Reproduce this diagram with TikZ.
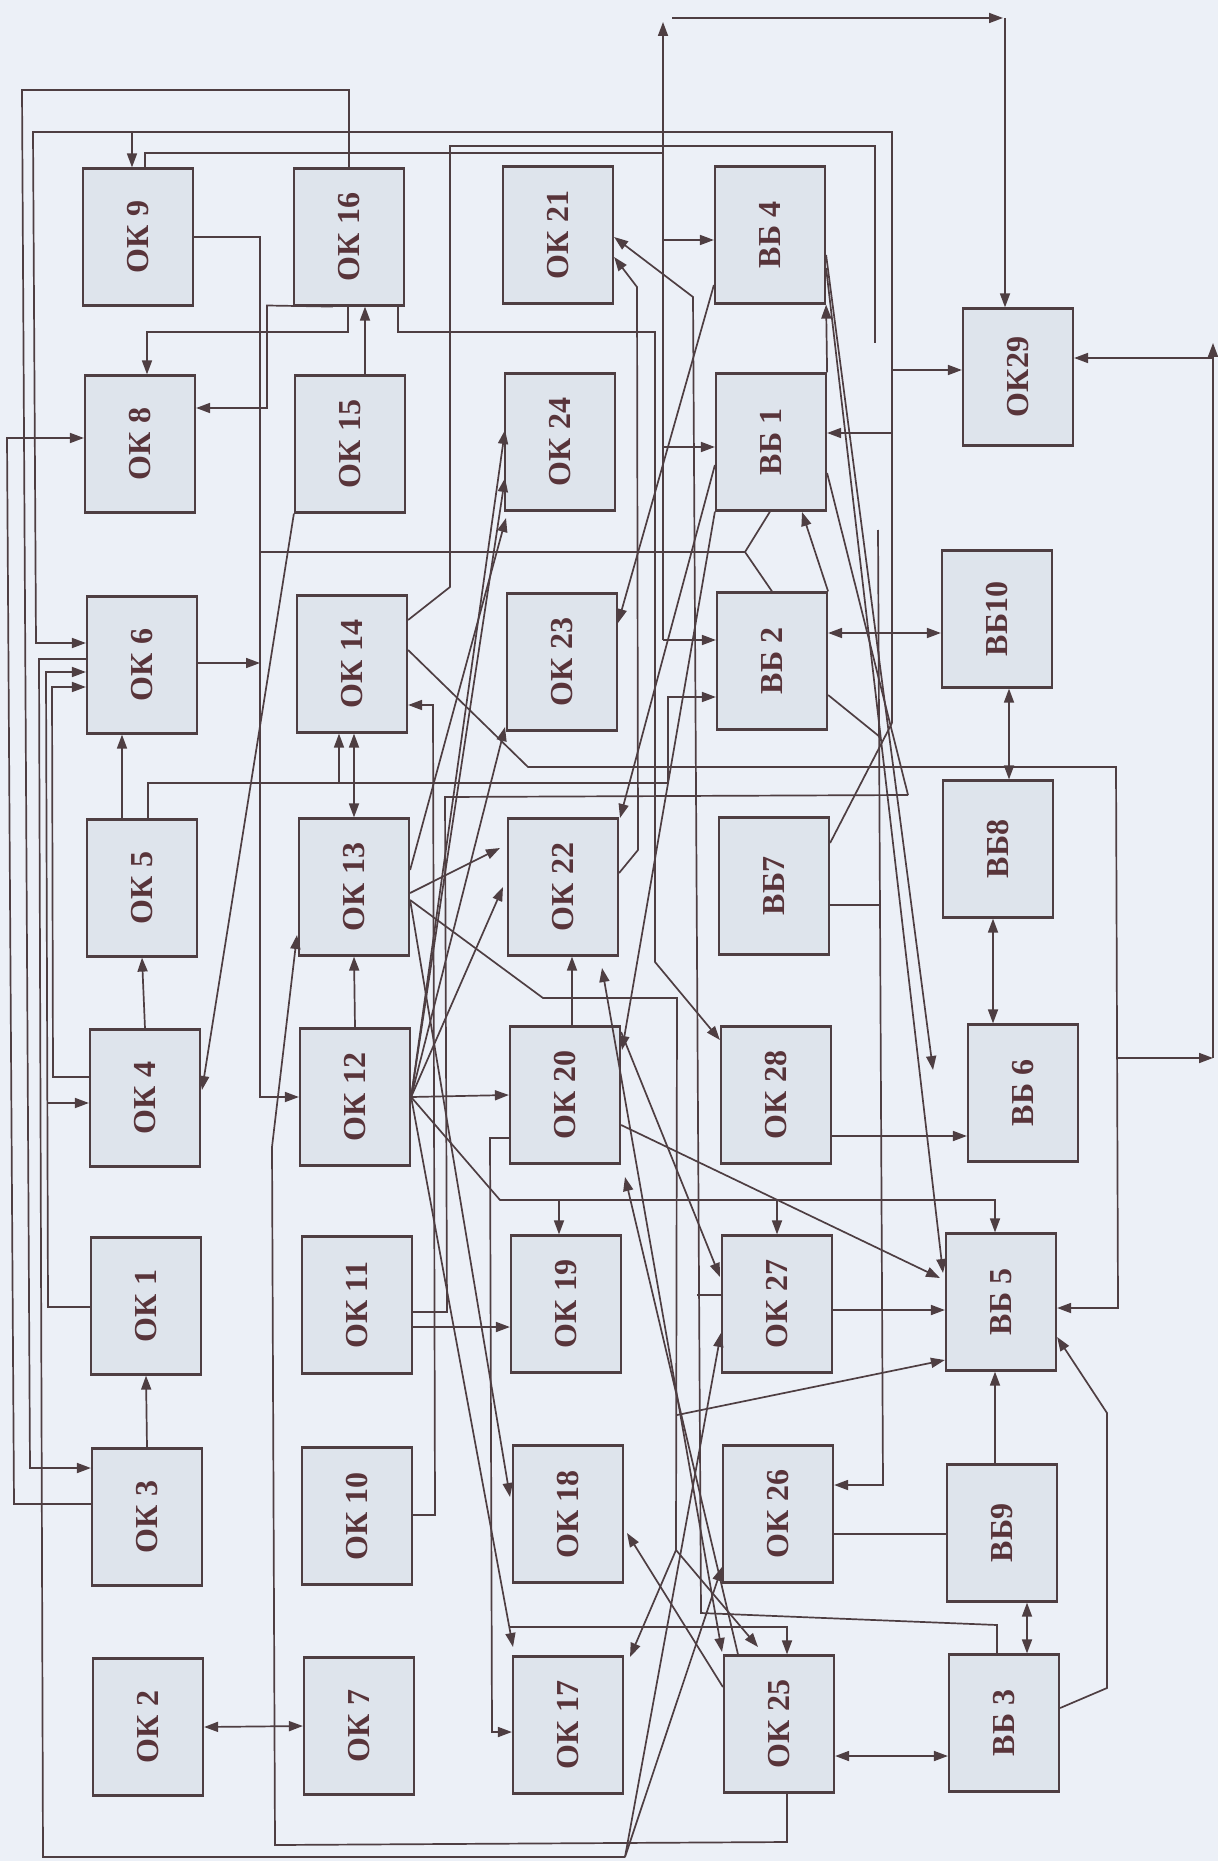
\documentclass[tikz,border=0pt]{standalone}
\usepackage{fontspec}
\setmainfont{Liberation Serif}
\usetikzlibrary{arrows.meta}
\definecolor{bg}{RGB}{236,240,247}
\definecolor{boxc}{RGB}{222,228,236}
\definecolor{lc}{RGB}{78,62,66}
\definecolor{tc}{RGB}{88,52,58}
\begin{document}
\begin{tikzpicture}[x=0.5pt,y=-0.5pt,
  box/.style={draw=lc,fill=boxc,line width=1.1pt,minimum width=55pt,minimum height=68.5pt,inner sep=0pt,text=tc,font=\fontsize{16}{16}\selectfont\bfseries},
  conn/.style={draw=lc,line width=0.85pt},
  arr/.style={conn,-{Triangle[length=7pt,width=5pt]}},
  darr/.style={conn,{Triangle[length=7pt,width=5pt]}-{Triangle[length=7pt,width=5pt]}}]
\fill[bg] (0,0) rectangle (1218,1861);
\useasboundingbox (0,0) rectangle (1218,1861);
\newcommand\bx[4]{\node[box] (#1) at (#2,#3) {\rotatebox{90}{#4}};}
% column 1
\bx{ok9}{138}{237}{ОК 9}
\bx{ok8}{140}{444}{ОК 8}
\bx{ok6}{142}{665}{ОК 6}
\bx{ok5}{142}{888}{ОК 5}
\bx{ok4}{145}{1098}{ОК 4}
\bx{ok1}{146}{1306}{ОК 1}
\bx{ok3}{147}{1517}{ОК 3}
\bx{ok2}{148}{1727}{ОК 2}
% column 2
\bx{ok16}{349}{237}{ОК 16}
\bx{ok15}{350}{444}{ОК 15}
\bx{ok14}{352}{664}{ОК 14}
\bx{ok13}{354}{887}{ОК 13}
\bx{ok12}{355}{1097}{ОК 12}
\bx{ok11}{357}{1305}{ОК 11}
\bx{ok10}{357}{1516}{ОК 10}
\bx{ok7}{359}{1726}{ОК 7}
% column 3
\bx{ok21}{558}{235}{ОК 21}
\bx{ok24}{560}{442}{ОК 24}
\bx{ok23}{562}{662}{ОК 23}
\bx{ok22}{563}{887}{ОК 22}
\bx{ok20}{565}{1095}{ОК 20}
\bx{ok19}{566}{1304}{ОК 19}
\bx{ok18}{568}{1514}{ОК 18}
\bx{ok17}{568}{1725}{ОК 17}
% column 4
\bx{vb4}{770}{235}{ВБ 4}
\bx{vb1}{771}{442}{ВБ 1}
\bx{vb2}{772}{661}{ВБ 2}
\bx{vb7}{774}{886}{ВБ7}
\bx{ok28}{776}{1095}{ОК 28}
\bx{ok27}{777}{1304}{ОК 27}
\bx{ok26}{778}{1514}{ОК 26}
\bx{ok25}{779}{1724}{ОК 25}
% column 5
\bx{ok29}{1018}{377}{ОК29}
\bx{vb10}{997}{619}{ВБ10}
\bx{vb8}{998}{849}{ВБ8}
\bx{vb6}{1023}{1093}{ВБ 6}
\bx{vb5}{1001}{1302}{ВБ 5}
\bx{vb9}{1002}{1533}{ВБ9}
\bx{vb3}{1004}{1723}{ВБ 3}

% ---- simple chains
\draw[arr] (ok3.north) -- (ok1.south);
\draw[arr] (ok4.north) -- (ok5.south);
\draw[arr] (ok5.north -| 122,0) -- (ok6.south -| 122,0);
\draw[arr] (ok12.north) -- (ok13.south);
\draw[arr] (ok15.north -| 365,0) -- (ok16.south -| 365,0);
\draw[darr] (ok13.north -| 354,0) -- (ok14.south -| 354,0);
\draw[darr] (ok2.east) -- (ok7.west);
\draw[darr] (ok25.east |- 0,1756) -- (vb3.west |- 0,1756);
\draw[darr] (vb9.south -| 1027,0) -- (vb3.north -| 1027,0);
\draw[arr] (vb9.north -| 995,0) -- (vb5.south -| 995,0);
\draw[darr] (vb8.south -| 993,0) -- (vb6.north -| 993,0);
\draw[darr] (vb10.south -| 1009,0) -- (vb8.north -| 1009,0);
\draw[darr] (vb2.east |- 0,633) -- (vb10.west |- 0,633);
\draw[arr] (ok28.east |- 0,1136) -- (vb6.west |- 0,1136);
\draw[arr] (ok27.east |- 0,1310) -- (vb5.west |- 0,1310);
\draw[conn] (ok26.east |- 0,1534) -- (vb9.west |- 0,1534);
\draw[arr] (vb3.east |- 0,1708) -- (1107,1688) -- (1107,1413) -- (vb5.east |- 0,1337);

% ---- left side
\draw[arr] (ok16.north) -- (349,90) -- (22,90) -- (30,1468) -- (ok3.west |- 0,1468);
\draw[arr] (ok3.west |- 0,1504) -- (14,1504) -- (7,438) -- (ok8.west |- 0,438);
\draw[arr] (892,723) -- (892,132) -- (33,132) -- (36,643) -- (ok6.west |- 0,643);
\draw[arr] (132,132) -- (ok9.north -| 132,0);
\draw[arr] (892,370) -- (ok29.west |- 0,370);
\draw[arr] (892,433) -- (vb1.east |- 0,433);
\draw[conn] (ok6.west |- 0,659) -- (39,659) -- (43,1857) -- (625,1857);
\draw[arr] (625,1857) -- (ok26.west |- 0,1567);
\draw[arr] (625,1857) -- (ok27.west |- 0,1333);
\draw[arr] (ok1.west |- 0,1307) -- (48,1307) -- (46,672) -- (ok6.west |- 0,672);
\draw[arr] (47,1103) -- (ok4.west |- 0,1103);
\draw[arr] (ok4.west |- 0,1077) -- (53,1077) -- (52,687) -- (ok6.west |- 0,687);

% ---- OK9 / OK16 region
\draw[conn] (ok9.north -| 145,0) -- (145,153) -- (663,153);
\draw[arr] (663,640) -- (663,22);
\draw[arr] (663,640) -- (vb2.west |- 0,640);
\draw[arr] (663,240) -- (vb4.west |- 0,240);
\draw[arr] (663,447) -- (vb1.west |- 0,447);
\draw[arr] (672,18) -- (1003,18);
\draw[arr] (1005,18) -- (ok29.north -| 1005,0);
\draw[arr] (ok9.east) -- (260,237) -- (260,1097) -- (ok12.west);
\draw[arr] (ok6.east |- 0,663) -- (260,663);
\draw[conn] (260,552) -- (745,552) -- (vb1.south -| 770,0);
\draw[conn] (745,552) -- (vb2.north -| 772,0);
\draw[arr] (ok16.south -| 348,0) -- (348,332) -- (147,332) -- (ok8.north -| 147,0);
\draw[arr] (ok16.south -| 333,0) -- (267,305.5) -- (267,408) -- (ok8.east |- 0,408);
\draw[arr] (ok16.south -| 398,0) -- (398,332) -- (655,332) -- (655,962) -- (ok28.west |- 0,1040);

% ---- OK5 line
\draw[arr] (ok5.north -| 148,0) -- (148,783) -- (668,783) -- (668,697) -- (vb2.west |- 0,697);
\draw[arr] (339,783) -- (ok14.south -| 339,0);

% ---- OK14 routes
\draw[conn] (ok14.east |- 0,620) -- (450,587) -- (450,146) -- (875,146) -- (875,343);
\draw[arr] (878,530) -- (883,1485) -- (ok26.east |- 0,1485);
\draw[arr] (ok14.east |- 0,650) -- (528,767) -- (1116,767) -- (1118,1308) -- (vb5.east |- 0,1308);
\draw[arr] (1117,1058) -- (1213,1058);
\draw[arr] (1213,1058) -- (1213,343);
\draw[arr] (1213,358) -- (ok29.east |- 0,358);

% ---- OK10 / OK11
\draw[arr] (ok10.east |- 0,1515) -- (435,1515) -- (433,705) -- (ok14.east |- 0,705);
\draw[conn] (ok11.east |- 0,1312) -- (447,1312) -- (445,797) -- (908,795);
\draw[arr] (ok11.east |- 0,1327) -- (ok19.west |- 0,1327);

% ---- column 4 right side
\draw[conn] (vb1.east |- 0,473) -- (908,795);
\draw[conn] (vb7.east |- 0,843) -- (892,723);
\draw[conn] (vb2.east |- 0,695) -- (880,737);
\draw[conn] (vb7.east |- 0,905) -- (880,905);
\draw[arr] (vb2.north east) -- (802,512);
\draw[arr] (vb1.north east) -- (vb4.south east);
\draw[arr] (vb4.east |- 0,255) -- (933,1070);
\draw[arr] (vb4.east |- 0,268) -- (943,1273);
\draw[arr] (ok20.east |- 0,1125) -- (940,1278);

% ---- column 3 region
\draw[arr] (ok22.east |- 0,873) -- (638,850) -- (637,287) -- (ok21.east |- 0,257);
\draw[arr] (vb3.north -| 997,0) -- (997,1625) -- (701,1613) -- (693,297) -- (ok21.east |- 0,237);
\draw[conn] (ok27.west |- 0,1295) -- (697,1295);
\draw[arr] (ok20.north -| 572,0) -- (ok22.south -| 572,0);
\draw[arr] (ok20.west |- 0,1138) -- (490,1138) -- (492,1732) -- (ok17.west |- 0,1732);
\draw[arr] (ok12.east) -- (ok20.west);
\draw[arr] (ok12.east) -- (500,1200) -- (995,1200) -- (vb5.north -| 995,0);
\draw[arr] (559,1200) -- (ok19.north -| 559,0);
\draw[arr] (777,1200) -- (ok27.north -| 777,0);
\draw[conn] (ok13.east |- 0,900) -- (543,998) -- (677,998) -- (676,1550);
\draw[arr] (676,1550) -- (630,1657);
\draw[arr] (676,1550) -- (758,1647);
\draw[arr] (677,1415) -- (vb5.west |- 0,1360);
\draw[arr] (ok13.east |- 0,900) -- (510,1497);
\draw[arr] (ok12.east) -- (513,1647);
\draw[arr] (509,1627) -- (787,1627) -- (ok25.north -| 787,0);
\draw[arr] (ok12.east) -- (505,430);
\draw[arr] (ok12.east) -- (505,478);
\draw[arr] (ok13.east |- 0,870) -- (506,518);
\draw[arr] (ok12.east) -- (505,727);
\draw[arr] (ok13.east |- 0,893) -- (500,848);
\draw[arr] (ok12.east) -- (503,887);
\draw[arr] (ok15.south west) -- (202,1090);
\draw[arr] (ok25.south -| 787,0) -- (787,1842) -- (275,1845) -- (272,1147) -- (297,935);
\draw[arr] (ok25.west |- 0,1687) -- (627,1533);
\draw[arr] (vb4.west |- 0,285) -- (618,623);
\draw[arr] (vb1.west |- 0,465) -- (620,818);
\draw[arr] (vb1.south west) -- (622,1050);
\draw[darr] (602,968) -- (722,1652);
\draw[arr] (ok25.north -| 738,0) -- (625,1177);
\draw[arr] (ok20.east |- 0,1032) -- (720,1277);
\end{tikzpicture}
\end{document}
